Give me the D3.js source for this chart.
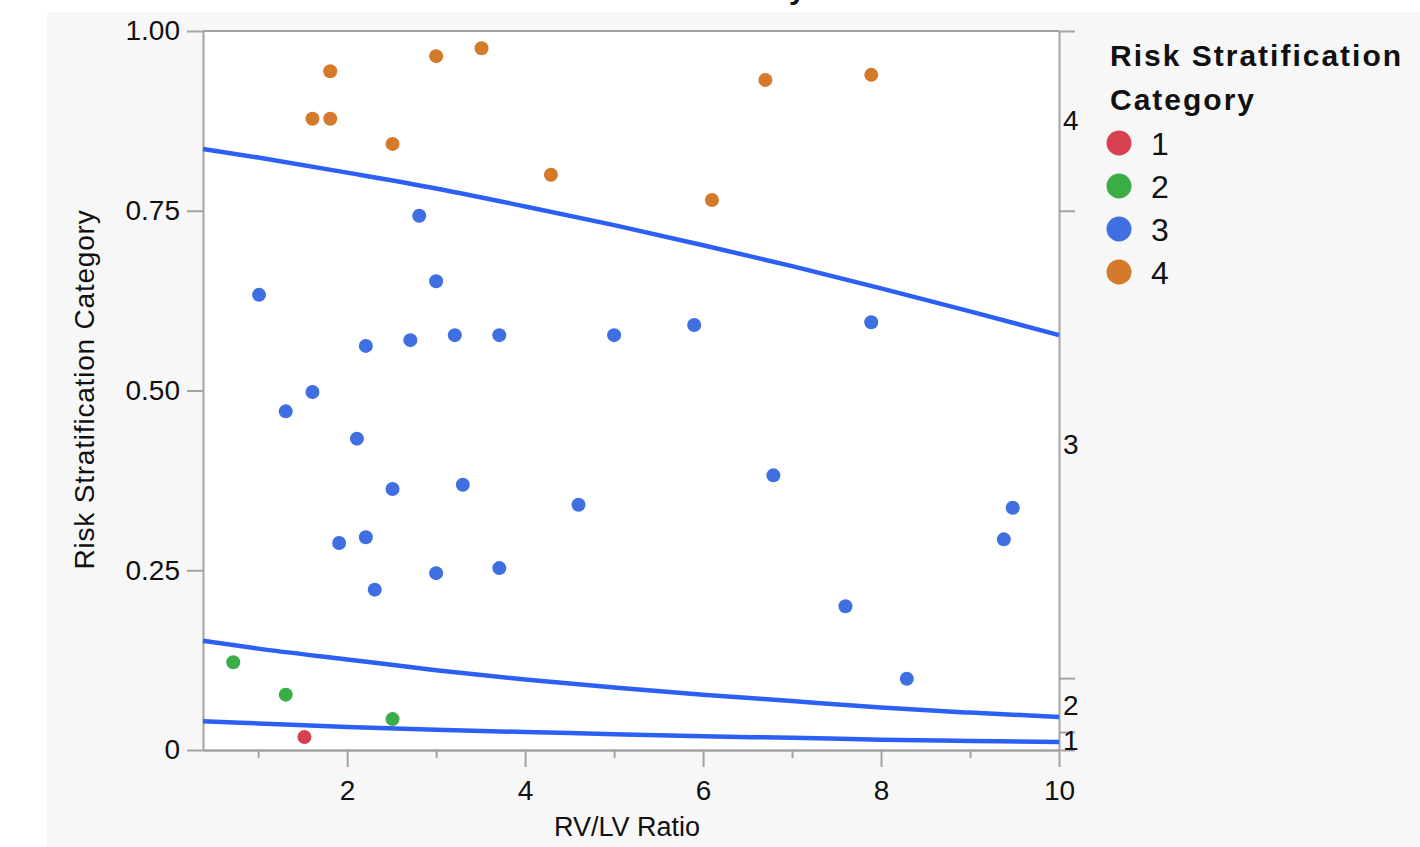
<!DOCTYPE html>
<meta charset="utf-8">
<head>
    <style>
        body {margin: 0; background: #fff;}
        text {font-family: "Helvetica Neue", Helvetica, Arial, "Liberation Sans", sans-serif; fill: #111;}
        .axis path, .axis line {stroke: #a3a3a3; stroke-width: 2px;}
        .axis text {font-size: 28px; fill: #111;}
        .fit {fill: none; stroke: #2c60f4; stroke-width: 4.5px;}
    </style>
    <script src="https://d3js.org/d3.v7.min.js"></script>
</head>
<body>
<script>

    // points: RV/LV ratio and plotted probability position, one pair of arrays per category
    var cat1X = [1.52],
        cat1Y = [0.018];
    var cat2X = [0.72, 1.31, 2.51],
        cat2Y = [0.122, 0.077, 0.043];
    var cat3X = [1.01, 2.81, 3.00, 2.21, 2.71, 3.21, 3.71, 5.00, 5.90, 7.89,
                 1.31, 1.61, 2.11, 2.51, 3.30, 4.60, 6.79, 1.91, 2.21, 2.31,
                 3.00, 3.71, 7.60, 8.29, 9.48, 9.38],
        cat3Y = [0.633, 0.743, 0.652, 0.562, 0.570, 0.577, 0.577, 0.577, 0.591, 0.595,
                 0.471, 0.498, 0.433, 0.363, 0.369, 0.341, 0.382, 0.288, 0.296, 0.223,
                 0.246, 0.253, 0.200, 0.099, 0.337, 0.293];
    var cat4X = [1.61, 1.81, 1.81, 2.51, 3.00, 3.51, 4.29, 6.10, 6.70, 7.89],
        cat4Y = [0.878, 0.878, 0.944, 0.843, 0.965, 0.976, 0.800, 0.765, 0.932, 0.939];

    // fitted cumulative probability curves
    var curveX = [0.38, 1, 2, 3, 4, 5, 6, 7, 8, 9, 10],
        cumP1 = [0.040, 0.037, 0.032, 0.028, 0.025, 0.022, 0.019, 0.017, 0.0144, 0.0126, 0.011],
        cumP2 = [0.152, 0.141, 0.126, 0.111, 0.098, 0.087, 0.077, 0.068, 0.059, 0.052, 0.046],
        cumP3 = [0.836, 0.824, 0.803, 0.781, 0.756, 0.730, 0.702, 0.673, 0.642, 0.610, 0.577];

    var categories = ["1", "2", "3", "4"],
        colors = ["#d8414f", "#3bad46", "#3f6fe1", "#d57a2b"],
        xMajor = [2, 4, 6, 8, 10],
        xMinor = [1, 3, 5, 7, 9],
        yTicks = [0, 0.25, 0.5, 0.75, 1];

    var groups = [
        {x: cat1X, y: cat1Y},
        {x: cat2X, y: cat2Y},
        {x: cat3X, y: cat3Y},
        {x: cat4X, y: cat4Y}
    ];

    var margin = {top: 31, right: 361, bottom: 97, left: 203},
        width = 1420 - margin.left - margin.right,
        height = 847 - margin.top - margin.bottom;

    var x = d3.scaleLinear()
        .domain([0.38, 10])
        .range([0, width]);

    var y = d3.scaleLinear()
        .domain([0, 1])
        .range([height, 0]);

    var svg = d3.select("body").append("svg")
        .attr("width", 1420)
        .attr("height", 847);

    // chart title, mostly cut off above the frame
    svg.append("text")
        .attr("x", 745)
        .attr("y", -1)
        .attr("text-anchor", "middle")
        .style("font-size", "30px")
        .style("font-weight", "bold")
        .text("Risk Stratification by RV/LV Ratio");

    svg.append("rect")
        .attr("x", 47).attr("y", 12)
        .attr("width", 1420 - 47).attr("height", 847 - 12)
        .attr("fill", "#f7f7f7");

    var g = svg.append("g")
        .attr("transform", "translate(" + margin.left + "," + margin.top + ")");

    g.append("rect")
        .attr("width", width)
        .attr("height", height)
        .attr("fill", "#fff");

    // left axis
    g.append("g")
        .attr("class", "axis")
        .call(d3.axisLeft(y).tickValues(yTicks).tickSize(16).tickPadding(7).tickSizeOuter(0)
            .tickFormat(function(d) {return d == 0 ? "0" : d3.format(".2f")(d)}));

    // bottom axis, minor then major ticks
    g.append("g")
        .attr("class", "axis")
        .attr("transform", "translate(0," + height + ")")
        .call(d3.axisBottom(x).tickValues(xMinor).tickSize(8).tickSizeOuter(0).tickFormat(""));

    g.append("g")
        .attr("class", "axis")
        .attr("transform", "translate(0," + height + ")")
        .call(d3.axisBottom(x).tickValues(xMajor).tickSize(17).tickPadding(13).tickSizeOuter(0));

    // right axis: cumulative share of each category
    var counts = groups.map(function(d) {return d.x.length}),
        total = d3.sum(counts),
        cum = d3.cumsum(counts).map(function(c) {return c / total}),
        bounds = [0].concat(Array.from(cum)),
        mids = categories.map(function(c, i) {return (bounds[i] + bounds[i + 1]) / 2});

    g.append("g")
        .attr("class", "axis")
        .attr("transform", "translate(" + width + ",0)")
        .call(d3.axisRight(y).tickValues(bounds).tickSize(16).tickSizeOuter(0).tickFormat(""));

    var rightLabels = d3.scaleOrdinal().domain(mids).range(categories);
    g.append("g")
        .attr("class", "axis right-labels")
        .attr("transform", "translate(" + width + ",0)")
        .call(d3.axisRight(y).tickValues(mids).tickSize(0).tickPadding(4)
            .tickFormat(function(d) {return rightLabels(d)}))
        .call(function(a) {a.select(".domain").remove()});

    // top frame line
    g.append("line")
        .attr("x1", 0).attr("x2", width)
        .attr("y1", 0).attr("y2", 0)
        .attr("stroke", "#a3a3a3").attr("stroke-width", 2);

    // fitted curves
    var line = d3.line()
        .x(function(d) {return x(d[0])})
        .y(function(d) {return y(d[1])})
        .curve(d3.curveMonotoneX);

    [cumP1, cumP2, cumP3].forEach(function(p) {
        g.append("path")
            .attr("class", "fit")
            .attr("d", line(d3.zip(curveX, p)));
    });

    // points
    groups.forEach(function(grp, i) {
        g.selectAll(".pt" + i)
            .data(d3.zip(grp.x, grp.y))
          .enter().append("circle")
            .attr("class", "pt" + i)
            .attr("cx", function(d) {return x(d[0])})
            .attr("cy", function(d) {return y(d[1])})
            .attr("r", 7)
            .attr("fill", colors[i]);
    });

    // axis titles
    svg.append("text")
        .attr("x", margin.left + width / 2 - 4)
        .attr("y", 836)
        .attr("text-anchor", "middle")
        .style("font-size", "27px")
        .text("RV/LV Ratio");

    svg.append("text")
        .attr("transform", "translate(94," + (margin.top + height / 2 - 1) + ") rotate(-90)")
        .attr("text-anchor", "middle")
        .style("font-size", "28px")
        .style("letter-spacing", "0.8px")
        .text("Risk Stratification Category");

    // legend
    var legend = svg.append("g").attr("transform", "translate(1110,0)");

    legend.append("text")
        .attr("y", 66)
        .style("font-size", "30px").style("font-weight", "bold").style("letter-spacing", "2px")
        .text("Risk Stratification");
    legend.append("text")
        .attr("y", 110)
        .style("font-size", "30px").style("font-weight", "bold").style("letter-spacing", "2px")
        .text("Category");

    var items = legend.selectAll(".item")
        .data(categories)
      .enter().append("g")
        .attr("class", "item")
        .attr("transform", function(d, i) {return "translate(9," + (143 + i * 43) + ")"});

    items.append("circle")
        .attr("r", 12.5)
        .attr("fill", function(d, i) {return colors[i]});

    items.append("text")
        .attr("x", 32)
        .attr("y", 12)
        .style("font-size", "32px")
        .text(function(d) {return d});

</script>
</body>
